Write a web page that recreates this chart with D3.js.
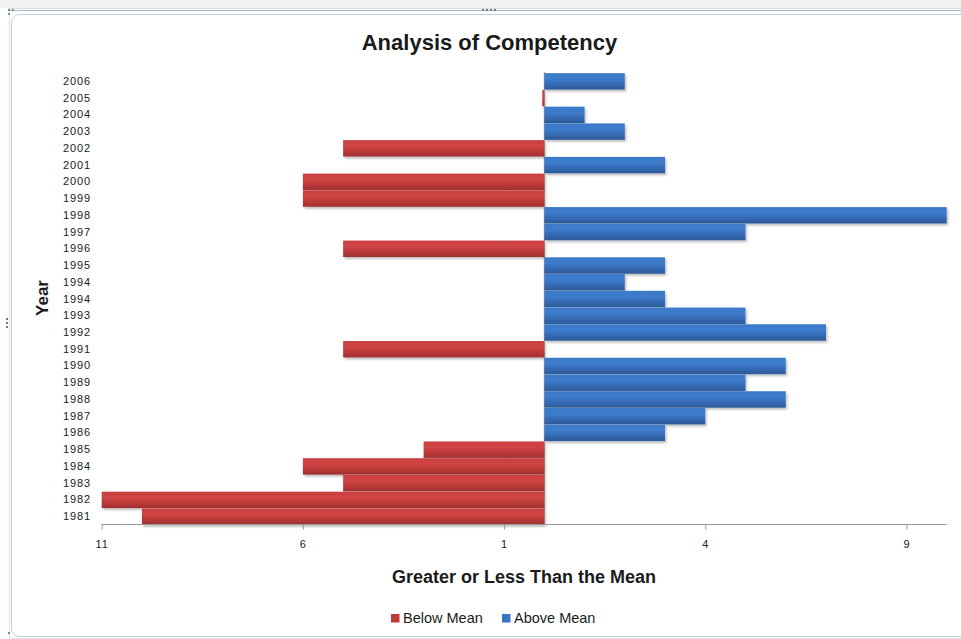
<!DOCTYPE html>
<html>
<head>
<meta charset="utf-8">
<script src="https://cdn.jsdelivr.net/npm/d3@7/dist/d3.min.js"></script>
<style>
  html, body { margin: 0; padding: 0; background: #ffffff; }
  svg { display: block; }
  text { font-family: "Liberation Sans", Arial, sans-serif; fill: #1a1a1a; }
</style>
</head>
<body>
<svg id="chart" width="961" height="639"></svg>
<script>
// ---- data (top of chart first) ----
const years = ["2006","2005","2004","2003","2002","2001","2000","1999","1998","1997","1996","1995","1994","1994","1993","1992","1991","1990","1989","1988","1987","1986","1985","1984","1983","1982","1981"];
const belowMean = [0, -0.05, 0, 0, -5, 0, -6, -6, 0, 0, -5, 0, 0, 0, 0, 0, -5, 0, 0, 0, 0, 0, -3, -6, -5, -11, -10];
const aboveMean = [2, 0, 1, 2, 0, 3, 0, 0, 10, 5, 0, 3, 2, 3, 5, 7, 0, 6, 5, 6, 4, 3, 0, 0, 0, 0, 0];
const xTicks = [-11, -6, -1, 4, 9];
const seriesNames = ["Below Mean", "Above Mean"];
const titleText = "Analysis of Competency";
const xTitle = "Greater or Less Than the Mean";
const yTitle = "Year";

const svg = d3.select("#chart");
const W = 961, H = 639;

// ---- window frame ----
svg.append("rect").attr("x", 0).attr("y", 0).attr("width", W).attr("height", 8).attr("fill", "#f1f2f3");
svg.append("line").attr("x1", 8).attr("x2", W).attr("y1", 8.5).attr("y2", 8.5).attr("stroke", "#d6dde6");
svg.append("line").attr("x1", 8).attr("x2", W).attr("y1", 10.5).attr("y2", 10.5).attr("stroke", "#a9b9cc");
svg.append("line").attr("x1", 9.5).attr("x2", 9.5).attr("y1", 10).attr("y2", H).attr("stroke", "#dce6ea");
svg.append("rect").attr("x", 11.5).attr("y", 14.5).attr("width", 960).attr("height", 622)
  .attr("rx", 8).attr("fill", "#ffffff").attr("stroke", "#c4ced8");
svg.append("line").attr("x1", 10).attr("x2", W).attr("y1", 638.5).attr("y2", 638.5).attr("stroke", "#e8e8e8");
// handles
[482, 486, 490, 494].forEach(x => svg.append("rect").attr("x", x).attr("y", 9).attr("width", 2).attr("height", 2).attr("fill", "#777"));
[318, 322, 326].forEach(y => svg.append("rect").attr("x", 6).attr("y", y).attr("width", 2).attr("height", 2).attr("fill", "#777"));
[[8, 9], [12, 9], [8, 13], [8, 632]].forEach(p => svg.append("rect").attr("x", p[0]).attr("y", p[1]).attr("width", 2).attr("height", 2).attr("fill", "#7a8a9a"));

// ---- defs ----
const defs = svg.append("defs");
function grad(id, stops) {
  const g = defs.append("linearGradient").attr("id", id).attr("x1", 0).attr("y1", 0).attr("x2", 0).attr("y2", 1);
  stops.forEach(s => g.append("stop").attr("offset", s[0]).attr("stop-color", s[1]));
}
grad("gRed", [[0, "#c94040"], [0.35, "#d04444"], [0.7, "#b93838"], [1, "#9e2f2f"]]);
grad("gBlue", [[0, "#3b79c9"], [0.35, "#3e7ccc"], [0.7, "#3468b2"], [1, "#2c5996"]]);
const f = defs.append("filter").attr("id", "shadow").attr("x", "-5%").attr("y", "-30%").attr("width", "115%").attr("height", "190%");
f.append("feDropShadow").attr("dx", 1.5).attr("dy", 2).attr("stdDeviation", 1.2).attr("flood-color", "#000").attr("flood-opacity", 0.25);

// ---- scales ----
const x = d3.scaleLinear().domain([-11, 10]).range([101.7, 946.7]);
const idx = d3.range(years.length);
const y = d3.scaleBand().domain(idx).range([73, 525]).paddingInner(0.02).paddingOuter(0.01);

// vertical category axis line at zero (behind bars)
svg.append("line").attr("x1", x(0)).attr("x2", x(0)).attr("y1", 72).attr("y2", 525)
  .attr("stroke", "#9a9a9a");

// ---- bars ----
const gBars = svg.append("g").attr("filter", "url(#shadow)");
gBars.selectAll("rect.below").data(idx.filter(i => belowMean[i] !== 0)).join("rect")
  .attr("x", i => x(belowMean[i])).attr("width", i => x(0) - x(belowMean[i]))
  .attr("y", i => y(i)).attr("height", y.bandwidth()).attr("fill", "url(#gRed)");
gBars.selectAll("rect.above").data(idx.filter(i => aboveMean[i] !== 0)).join("rect")
  .attr("x", x(0)).attr("width", i => x(aboveMean[i]) - x(0))
  .attr("y", i => y(i)).attr("height", y.bandwidth()).attr("fill", "url(#gBlue)");

// ---- axes ----
const xAxis = d3.axisBottom(x).tickValues(xTicks).tickSize(5).tickSizeOuter(0).tickPadding(11)
  .tickFormat(d => String(Math.abs(d)));
const gx = svg.append("g").attr("transform", "translate(0,524.5)").call(xAxis);
gx.select(".domain").attr("stroke", "#9a9a9a").attr("d", `M${x(-11)},0H${x(10)}`);
gx.selectAll(".tick line").attr("stroke", "#9a9a9a");
gx.selectAll(".tick text").attr("font-size", 11).attr("letter-spacing", "1px")
  .attr("font-family", "Liberation Sans, Arial, sans-serif").attr("fill", "#1a1a1a");

const yAxis = d3.axisLeft(y).tickSize(0).tickPadding(0).tickFormat(i => years[i]);
const gy = svg.append("g").attr("transform", "translate(91,0)").call(yAxis);
gy.select(".domain").remove();
gy.selectAll(".tick text").attr("font-size", 11).attr("letter-spacing", "0.9px")
  .attr("font-family", "Liberation Sans, Arial, sans-serif").attr("fill", "#1a1a1a");

// ---- titles ----
svg.append("text").attr("x", 489.5).attr("y", 50).attr("text-anchor", "middle")
  .attr("font-size", 22).attr("font-weight", "bold").text(titleText);
svg.append("text").attr("x", 524).attr("y", 583).attr("text-anchor", "middle")
  .attr("font-size", 18).attr("font-weight", "bold").text(xTitle);
svg.append("text").attr("transform", "translate(48,298) rotate(-90)").attr("text-anchor", "middle")
  .attr("font-size", 17).attr("font-weight", "bold").text(yTitle);

// ---- legend ----
const legendX = [391, 502];
const legendFill = ["#c0393b", "#3a73c0"];
seriesNames.forEach((name, i) => {
  svg.append("rect").attr("x", legendX[i]).attr("y", 614).attr("width", 8.5).attr("height", 8.5).attr("fill", legendFill[i]);
  svg.append("text").attr("x", legendX[i] + 12).attr("y", 623).attr("font-size", 14.5).text(name);
});
</script>
</body>
</html>
